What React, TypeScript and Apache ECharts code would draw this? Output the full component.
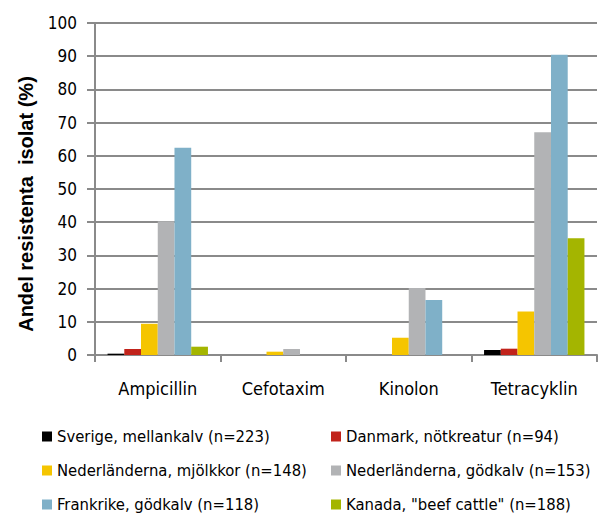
import React, { useEffect, useRef } from "react";
import * as echarts from "echarts";

const categories = ["Ampicillin", "Cefotaxim", "Kinolon", "Tetracyklin"];
const seriesNames = [
  "Sverige, mellankalv (n=223)",
  "Danmark, nötkreatur (n=94)",
  "Nederländerna, mjölkkor (n=148)",
  "Nederländerna, gödkalv (n=153)",
  "Frankrike, gödkalv (n=118)",
  'Kanada, "beef cattle" (n=188)',
];
const sverige = [0.4, 0, 0, 1.5];
const danmark = [1.8, 0, 0, 1.9];
const nlMjolkkor = [9.4, 1.0, 5.2, 13.1];
const nlGodkalv = [40.3, 1.8, 20.2, 67.1];
const frankrike = [62.4, 0, 16.6, 90.4];
const kanada = [2.5, 0, 0, 35.2];
const seriesValues = [sverige, danmark, nlMjolkkor, nlGodkalv, frankrike, kanada];
const colors = ["#000000", "#c1231b", "#f5c500", "#b2b3b5", "#7fb0c8", "#a4b500"];
const yTicks = { min: 0, max: 100, interval: 10 };
const yTitle = "Andel resistenta  isolat (%)";

const GRAY = "#8a8a8a";
const COND = "'DejaVu Sans Condensed', 'Liberation Sans Narrow', sans-serif";

export default function App() {
  const ref = useRef<HTMLDivElement>(null);
  useEffect(() => {
    if (!ref.current) return;
    const chart = echarts.init(ref.current, null, { renderer: "svg" });
    const legendCommon = {
      orient: "horizontal" as const,
      padding: 0,
      itemWidth: 10,
      itemHeight: 10,
      icon: "rect",
      textStyle: { fontFamily: COND, fontSize: 16.5, color: "#000", lineHeight: 16 },
    };
    const rowTops = [428, 462, 496];
    const colLefts = [42, 331];
    chart.setOption({
      animation: false,
      backgroundColor: "#ffffff",
      color: colors,
      grid: { left: 95, right: 3, top: 23, bottom: 158, containLabel: false },
      legend: seriesNames.map((name, i) => ({
        ...legendCommon,
        left: colLefts[i % 2],
        top: rowTops[Math.floor(i / 2)],
        data: [name],
      })),
      graphic: [
        {
          type: "text",
          x: 26,
          y: 204,
          rotation: Math.PI / 2,
          style: {
            text: yTitle,
            align: "center",
            verticalAlign: "middle",
            fontFamily: "'Liberation Sans', Arial, sans-serif",
            fontWeight: "bold",
            fontSize: 20,
            fill: "#000",
          },
        },
      ],
      xAxis: {
        type: "category",
        data: categories,
        axisLine: { show: true, lineStyle: { color: GRAY, width: 2 } },
        axisTick: { show: true, length: 7, lineStyle: { color: GRAY, width: 2 } },
        axisLabel: { fontFamily: COND, fontSize: 18, color: "#000", margin: 24 },
      },
      yAxis: {
        type: "value",
        min: yTicks.min,
        max: yTicks.max,
        interval: yTicks.interval,
        axisLine: { show: true, lineStyle: { color: GRAY, width: 2 } },
        axisTick: { show: true, length: 8, lineStyle: { color: GRAY, width: 2 } },
        axisLabel: { fontFamily: COND, fontSize: 17, color: "#000", margin: 18 },
        splitLine: { show: true, lineStyle: { color: GRAY, width: 2 } },
      },
      series: seriesNames.map((name, i) => ({
        name,
        type: "bar",
        data: seriesValues[i],
        barGap: "0%",
        barCategoryGap: "20%",
        itemStyle: { color: colors[i] },
      })),
    });
    return () => chart.dispose();
  }, []);
  return <div ref={ref} style={{ position: "fixed", left: 0, top: 0, width: 600, height: 513 }} />;
}
